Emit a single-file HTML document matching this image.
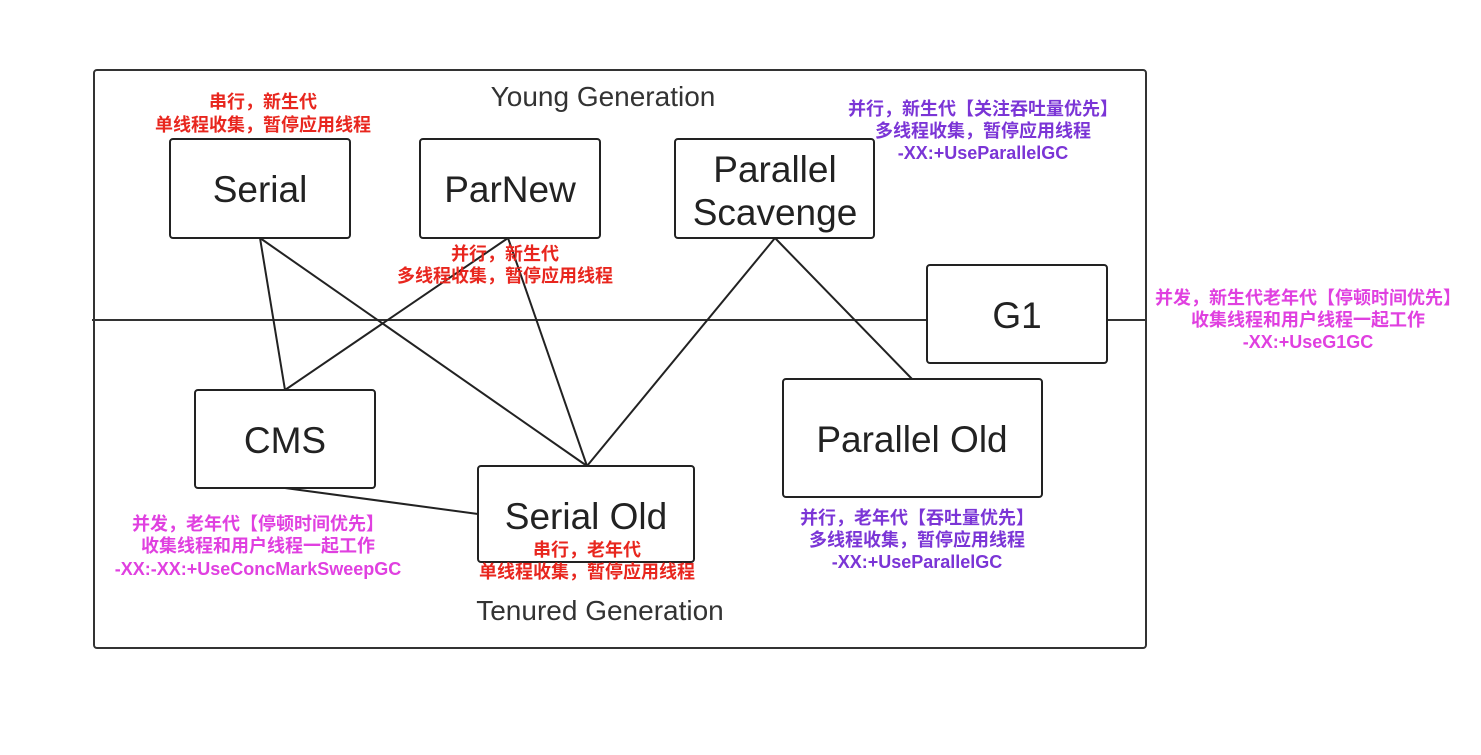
<!DOCTYPE html>
<html><head><meta charset="utf-8"><style>
body{margin:0;background:#fff;}
svg{display:block}
.n{font-family:"Liberation Sans","DejaVu Sans",sans-serif;font-size:37px;fill:#222;text-anchor:middle}
.g{font-family:"Liberation Sans","DejaVu Sans",sans-serif;font-size:28px;fill:#333;text-anchor:middle}
.c{font-family:"Liberation Sans","Noto Sans CJK SC",sans-serif;font-size:18px;font-weight:bold;text-anchor:middle}
.r{fill:#e8261e}.m{fill:#e040e0}.p{fill:#7b35d6}
</style></head><body>
<svg width="1481" height="755" viewBox="0 0 1481 755">
<rect x="94" y="70" width="1052" height="578" rx="3" fill="none" stroke="#333" stroke-width="2"/>
<line x1="92" y1="320" x2="1146" y2="320" stroke="#333" stroke-width="2"/>
<g stroke="#222" stroke-width="2" fill="none">
<line x1="260" y1="238" x2="285" y2="390"/>
<line x1="260" y1="238" x2="587" y2="466"/>
<line x1="508" y1="238" x2="285" y2="390"/>
<line x1="508" y1="238" x2="587" y2="466"/>
<line x1="775" y1="238" x2="587" y2="466"/>
<line x1="775" y1="238" x2="912" y2="379"/>
<line x1="285" y1="488" x2="478" y2="514"/>
</g>
<g fill="#fff" stroke="#222" stroke-width="2">
<rect x="170" y="139" width="180" height="99" rx="3"/>
<rect x="420" y="139" width="180" height="99" rx="3"/>
<rect x="675" y="139" width="199" height="99" rx="3"/>
<rect x="927" y="265" width="180" height="98" rx="3"/>
<rect x="195" y="390" width="180" height="98" rx="3"/>
<rect x="478" y="466" width="216" height="96" rx="3"/>
<rect x="783" y="379" width="259" height="118" rx="3"/>
</g>
<text class="n" x="260" y="202">Serial</text>
<text class="n" x="510" y="202">ParNew</text>
<text class="n" x="775" y="182">Parallel</text>
<text class="n" x="775" y="225">Scavenge</text>
<text class="n" x="1017" y="328">G1</text>
<text class="n" x="285" y="453">CMS</text>
<text class="n" x="586" y="529">Serial Old</text>
<text class="n" x="912" y="452">Parallel Old</text>
<text class="g" x="603" y="106">Young Generation</text>
<text class="g" x="600" y="620">Tenured Generation</text>
<text class="c r" x="263" y="108">串行，新生代</text>
<text class="c r" x="263" y="131">单线程收集，暂停应用线程</text>
<text class="c r" x="505" y="260">并行，新生代</text>
<text class="c r" x="505" y="282">多线程收集，暂停应用线程</text>
<text class="c p" x="983" y="115">并行，新生代【关注吞吐量优先】</text>
<text class="c p" x="983" y="137">多线程收集，暂停应用线程</text>
<text class="c p" x="983" y="159">-XX:+UseParallelGC</text>
<text class="c m" x="1308" y="304">并发，新生代老年代【停顿时间优先】</text>
<text class="c m" x="1308" y="326">收集线程和用户线程一起工作</text>
<text class="c m" x="1308" y="348">-XX:+UseG1GC</text>
<text class="c m" x="258" y="530">并发，老年代【停顿时间优先】</text>
<text class="c m" x="258" y="552">收集线程和用户线程一起工作</text>
<text class="c m" x="258" y="575">-XX:-XX:+UseConcMarkSweepGC</text>
<text class="c r" x="587" y="556">串行，老年代</text>
<text class="c r" x="587" y="578">单线程收集，暂停应用线程</text>
<text class="c p" x="917" y="524">并行，老年代【吞吐量优先】</text>
<text class="c p" x="917" y="546">多线程收集，暂停应用线程</text>
<text class="c p" x="917" y="568">-XX:+UseParallelGC</text>
</svg>
</body></html>
